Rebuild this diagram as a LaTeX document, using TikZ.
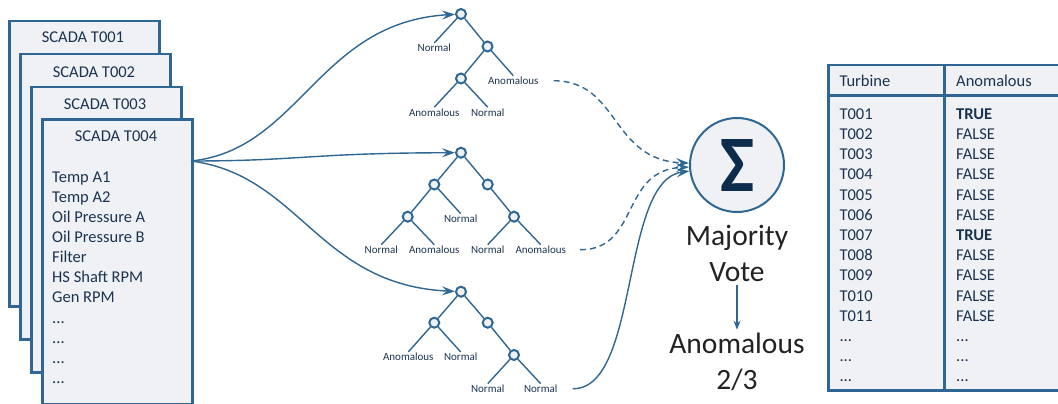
\documentclass[tikz,border=0pt]{standalone}
\usepackage{fontspec}
\setmainfont{Carlito}
\usetikzlibrary{arrows.meta}
\definecolor{edgeblue}{HTML}{2E6694}
\definecolor{panel}{HTML}{EFF1F4}
\definecolor{ink}{HTML}{1C3350}
\definecolor{sigmaink}{HTML}{0D2B4A}
\definecolor{voteink}{HTML}{222222}
\newcommand\moredots{...}
\begin{document}
\begin{tikzpicture}[x=1pt,y=-1pt,
  sheet/.style={draw=edgeblue, line width=2.5pt, fill=panel, anchor=north west,
    minimum width=150pt, minimum height=285pt, inner sep=0pt},
  sheettitle/.style={anchor=base, text=ink, font=\fontsize{16.5}{19}\selectfont, inner sep=0pt},
  field/.style={anchor=base west, text=ink, font=\fontsize{16.5}{20}\selectfont, inner sep=0pt},
  split/.style={circle, draw=edgeblue, line width=2pt, fill=panel, minimum size=10pt, inner sep=0pt},
  leaf/.style={anchor=base, text=ink, font=\fontsize{11}{13}\selectfont, inner sep=1pt},
  branch/.style={draw=edgeblue, line width=1.4pt},
  tip/.style={-{Stealth[length=13pt,width=9pt,inset=5pt]}},
  feed/.style={draw=edgeblue, line width=1.4pt, tip},
  ballot/.style={draw=edgeblue, line width=1.4pt, dash pattern=on 6pt off 4pt, tip},
  bigtext/.style={anchor=base, text=voteink, inner sep=3pt},
  cell/.style={anchor=base west, text=ink, font=\fontsize{16.5}{20}\selectfont, inner sep=0pt},
  tableline/.style={draw=edgeblue, line width=2.5pt}
]
\useasboundingbox (0,0) rectangle (1058,404);

% stacked SCADA sheets
\node[sheet] (s1) at (8,20) {};
\node[sheettitle] (t1) at (83,42.3) {SCADA T001};
\node[sheet] (s2) at (19,53) {};
\node[sheettitle] (t2) at (94,77.3) {SCADA T002};
\node[sheet] (s3) at (30,86) {};
\node[sheettitle] (t3) at (105,109.3) {SCADA T003};
\node[sheet] (s4) at (41,118) {};
\node[sheettitle] (t4) at (116,141.3) {SCADA T004};

\foreach \txt [count=\i from 0] in {Temp A1, Temp A2, Oil Pressure A, Oil Pressure B,
    Filter, HS Shaft RPM, Gen RPM, \moredots, \moredots, \moredots, \moredots}
  \node[field] (f\i) at (52,182.3+20.1*\i) {\txt};

\coordinate (out) at (191,161);

% tree 1
\node[split] (a0) at (461,14) {};
\node[split] (a1) at (487.5,46.5) {};
\node[split] (a2) at (461,78.5) {};
\node[leaf] (a0l) at (434.3,51.8) {Normal};
\node[leaf] (a1r) at (513.3,84.5) {Anomalous};
\node[leaf] (a2l) at (434.3,116) {Anomalous};
\node[leaf] (a2r) at (487.7,116) {Normal};
\draw[branch] (a0) -- (a1) (a1) -- (a2);
\draw[branch] (a0) -- (a0l.north) (a1) -- (a1r.north) (a2) -- (a2l.north) (a2) -- (a2r.north);

% tree 2
\node[split] (b0) at (461,152.7) {};
\node[split] (b1) at (434.3,184.5) {};
\node[split] (b2) at (487.7,184.5) {};
\node[split] (b3) at (407.7,216.7) {};
\node[split] (b4) at (514,216.7) {};
\node[leaf] (b1r) at (460.7,222.5) {Normal};
\node[leaf] (b3l) at (381.3,253.5) {Normal};
\node[leaf] (b3r) at (434.3,253.5) {Anomalous};
\node[leaf] (b4l) at (487.7,253.5) {Normal};
\node[leaf] (b4r) at (540.7,253.5) {Anomalous};
\draw[branch] (b0) -- (b1) (b0) -- (b2) (b1) -- (b3) (b2) -- (b4);
\draw[branch] (b1) -- (b1r.north) (b3) -- (b3l.north) (b3) -- (b3r.north)
  (b4) -- (b4l.north) (b4) -- (b4r.north);

% tree 3
\node[split] (c0) at (461,291.7) {};
\node[split] (c1) at (434.3,322.7) {};
\node[split] (c2) at (487.7,322.7) {};
\node[split] (c3) at (514,355) {};
\node[leaf] (c1l) at (408.3,360.8) {Anomalous};
\node[leaf] (c1r) at (460.7,360.8) {Normal};
\node[leaf] (c3l) at (487.7,392.5) {Normal};
\node[leaf] (c3r) at (540.7,392.5) {Normal};
\draw[branch] (c0) -- (c1) (c0) -- (c2) (c2) -- (c3);
\draw[branch] (c1) -- (c1l.north) (c1) -- (c1r.north) (c3) -- (c3l.north) (c3) -- (c3r.north);

% data fed to each tree
\draw[feed] (out) .. controls (300,150) and (318,22) .. (a0);
\draw[feed] (out) .. controls (300,161) and (310,153) .. (b0);
\draw[feed] (out) .. controls (300,175) and (318,285) .. (c0);

% voting
\node[circle, draw=edgeblue, line width=2pt, fill=panel, minimum size=94pt, inner sep=0pt,
  text=sigmaink] (sum) at (737,165)
  {\resizebox{34pt}{52pt}{\bfseries Σ}};
\draw[ballot] ([xshift=14pt]a1r.east) .. controls (620,81) and (610,160) .. (sum);
\draw[ballot] ([xshift=13pt]b4r.east) .. controls (640,250) and (620,170) .. (sum);
\draw[feed] ([xshift=14pt]c3r.east) .. controls (640,390) and (620,180) .. (sum);

\node[bigtext, font=\fontsize{29.5}{35}\selectfont] (mv1) at (737,245.7) {Majority};
\node[bigtext, font=\fontsize{29.5}{35}\selectfont] (mv2) at (737,281.7) {Vote};
\node[bigtext, font=\fontsize{29.5}{35}\selectfont] (res1) at (737,353.3) {Anomalous};
\node[bigtext, font=\fontsize{29.5}{35}\selectfont] (res2) at (737,389) {2/3};
\draw[draw=edgeblue, line width=1.2pt, -{Stealth[length=9pt,width=7pt,inset=3pt]}]
  (mv2.south) -- (res1.north);

% results table
\begin{scope}
\clip (0,0) rectangle (1058,404);
\node[draw=edgeblue, line width=2.5pt, fill=panel, anchor=north west,
  minimum width=260pt, minimum height=325pt, inner sep=0pt] (tbl) at (827,64) {};
\draw[tableline] (827,95.7) -- (1090,95.7);
\draw[tableline] (944.3,64) -- (944.3,389);
\end{scope}
\node[cell] (h1) at (839.3,87) {Turbine};
\node[cell] (h2) at (956,87) {Anomalous};
\foreach \tid/\val [count=\i from 0] in {T001/\textbf{TRUE}, T002/FALSE, T003/FALSE,
    T004/FALSE, T005/FALSE, T006/FALSE, T007/\textbf{TRUE}, T008/FALSE, T009/FALSE,
    T010/FALSE, T011/FALSE, \moredots/\moredots, \moredots/\moredots, \moredots/\moredots}
{
  \node[cell] (tr\i) at (839.3,119.3+20.2*\i) {\tid};
  \node[cell] (ta\i) at (956,119.3+20.2*\i) {\val};
}
\end{tikzpicture}
\end{document}
